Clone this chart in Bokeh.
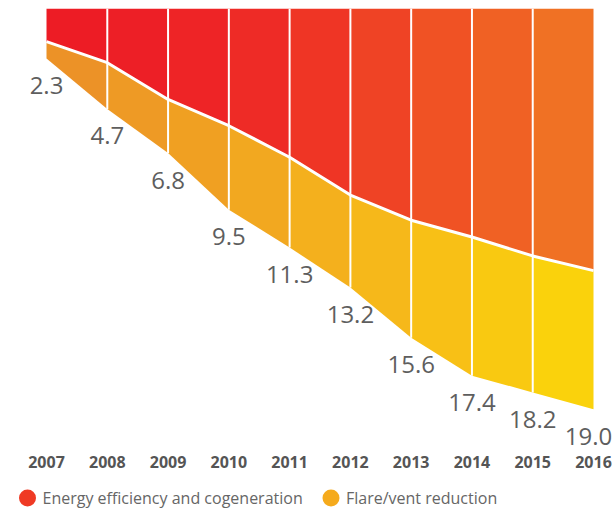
from bokeh.plotting import figure
from bokeh.models import Range1d, FixedTicker, ColumnDataSource
from bokeh.layouts import column
from bokeh.core.properties import value
from bokeh.embed import file_html
from bokeh.resources import INLINE

# ---- data ----
years = [2007, 2008, 2009, 2010, 2011, 2012, 2013, 2014, 2015, 2016]
energy = [1.5, 2.5, 4.25, 5.5, 7.0, 8.8, 10.0, 10.8, 11.7, 12.4]   # Energy efficiency and cogeneration
flare = [0.8, 2.2, 2.55, 4.0, 4.3, 4.4, 5.6, 6.6, 6.5, 6.6]          # Flare/vent reduction
series_names = ["Energy efficiency and cogeneration", "Flare/vent reduction"]

totals = [round(e + f, 1) for e, f in zip(energy, flare)]
total_labels = [f"{t:.1f}" for t in totals]

# ---- styles ----
red_cols = ["#ED1C25", "#ED1F26", "#EE2426", "#EE2B26", "#EF3525", "#EF4325",
            "#F05224", "#F06124", "#F07124"]
yel_cols = ["#EC9227", "#EE9A25", "#F0A022", "#F2A820", "#F4B01D", "#F6B81A",
            "#F8C016", "#F9C911", "#FAD20C"]
legend_cols = ["#EF3A24", "#F5AA1C"]
FONT = "Open Sans"

W = 614
H_MAIN = 480
H_LEG = 28
TOP = -0.081
BOTTOM = 20.87

p = figure(width=W, height=H_MAIN, output_backend="svg", toolbar_location=None,
           x_range=Range1d(2006.243, 2016.3455), y_range=Range1d(BOTTOM, TOP),
           min_border_left=0, min_border_right=0, min_border_top=8, min_border_bottom=32)
p.outline_line_color = None
p.xgrid.visible = False
p.ygrid.visible = False
p.yaxis.visible = False
p.background_fill_color = "white"
p.border_fill_color = "white"

for i in range(len(years) - 1):
    xs = years[i:i + 2]
    p.varea(x=xs, y1=[TOP, TOP], y2=energy[i:i + 2], fill_color=red_cols[i])
    p.varea(x=xs, y1=energy[i:i + 2], y2=totals[i:i + 2], fill_color=yel_cols[i])

# white column separators
p.segment(x0=years[1:-1], y0=[TOP] * (len(years) - 2), x1=years[1:-1], y1=totals[1:-1],
          line_color="white", line_width=2)
# white boundary between the two areas
p.line(years, energy, line_color="white", line_width=3)

src = ColumnDataSource(dict(x=years, y=totals, t=total_labels,
                            xo=[0] * (len(years) - 1) + [-5]))
p.text(x="x", y="y", text="t", source=src, x_offset="xo", y_offset=27,
       text_align="center", text_baseline="middle", text_font=value(FONT),
       text_font_size="24px", text_color="#5E5E5E")

ax = p.xaxis[0]
ax.ticker = FixedTicker(ticks=years)
ax.axis_line_color = None
ax.major_tick_line_color = None
ax.minor_tick_line_color = None
ax.major_label_standoff = 1
ax.major_label_text_font = FONT
ax.major_label_text_font_style = "bold"
ax.major_label_text_font_size = "16px"
ax.major_label_text_color = "#555555"

# ---- legend row ----
leg = figure(width=W, height=H_LEG, output_backend="svg", toolbar_location=None,
             x_range=Range1d(0, W), y_range=Range1d(0, H_LEG),
             min_border=0)
leg.outline_line_color = None
leg.axis.visible = False
leg.grid.visible = False
leg_x = [27, 330.5]
leg.scatter(x=leg_x, y=[10.5, 10.5], size=17, marker="circle", fill_color=legend_cols,
            line_color=None)
leg.text(x=[x + 15 for x in leg_x], y=[10.5, 10.5], text=series_names, text_baseline="middle",
         text_align="left", text_font=value(FONT), text_font_size="16px",
         text_color="#666666")

layout = column(p, leg, spacing=0)
open("out.html", "w").write(file_html(layout, INLINE))
